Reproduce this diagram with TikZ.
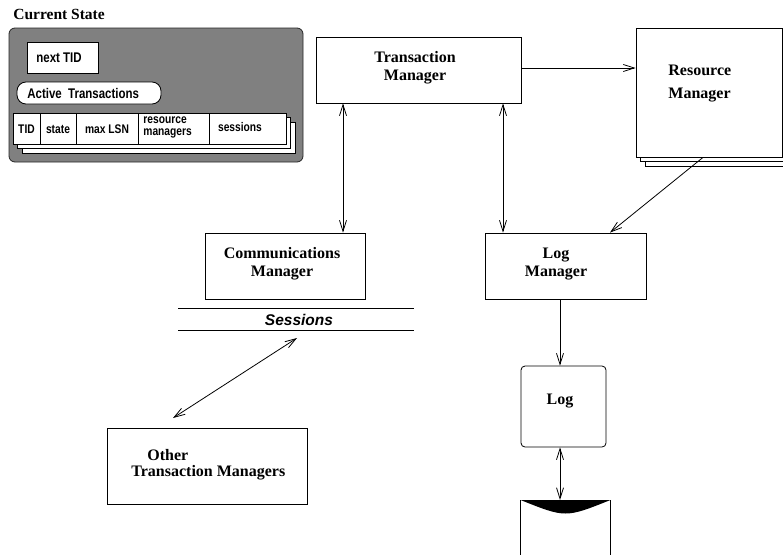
\documentclass[tikz,border=0pt]{standalone}
\usepackage{fontspec}
\setmainfont{Liberation Serif}
\newfontfamily\narrowsans[FakeStretch=0.82]{Liberation Sans}
\newfontfamily\plainsans{Liberation Sans}
\usetikzlibrary{arrows.meta}

\tikzset{
  box/.style={draw, fill=white, rectangle, inner sep=0pt},
  mainlabel/.style={font=\bfseries\fontsize{16}{18}\selectfont, inner sep=0pt},
  smalllabel/.style={font=\narrowsans\bfseries\fontsize{14}{15}\selectfont, inner sep=0pt},
  celllabel/.style={font=\narrowsans\bfseries\fontsize{12.5}{11.5}\selectfont, inner sep=0pt},
  barb/.tip={Straight Barb[length=11pt,width=7pt]},
  arr/.style={-barb},
  darr/.style={barb-barb},
  sheet/.style={draw, fill=white, rectangle, inner sep=0pt, minimum width=273pt, minimum height=31pt},
  rmsheet/.style={draw, fill=white, rectangle, inner sep=0pt, minimum width=146pt, minimum height=129pt},
}

\begin{document}
\begin{tikzpicture}[x=1pt, y=-1pt, line width=0.8pt]
\clip (0,0) rectangle (783,554);
\fill[white] (0,0) rectangle (783,554);

% ---- current state panel ----
\node[anchor=west, font=\bfseries\fontsize{15.5}{17}\selectfont, inner sep=0pt] (cstitle) at (13,14) {Current State};
\node[draw=black!85, fill=black!50, rounded corners=6pt, minimum width=294pt, minimum height=134pt, inner sep=0pt] (panel) at (156,95) {};
\node[box, minimum width=71pt, minimum height=31pt] (nexttid) at (62.5,57.5) {};
\node[smalllabel, anchor=west] (nexttidtext) at (36,58) {next TID};
\node[box, rounded corners=9pt, minimum width=144pt, minimum height=22pt] (active) at (89,93) {};
\node[smalllabel, anchor=west] (activetext) at (27,93.5) {Active\ \ Transactions};

% stacked table rows
\node[sheet] (row3) at (158.5,137.5) {};
\node[sheet] (row2) at (154,133) {};
\node[sheet] (row1) at (149.5,128.5) {};
\foreach \cx in {40,76,138,209}
  \draw (\cx,113) -- (\cx,144);
\node[celllabel] (ctid) at (26.5,129) {TID};
\node[celllabel] (cstate) at (58,129) {state};
\node[celllabel] (clsn) at (107,129) {max LSN};
\node[celllabel, anchor=west, align=left] (crm) at (143,127.5) {resource\\managers};
\node[celllabel] (csess) at (240,127) {sessions};

% ---- transaction manager ----
\node[box, minimum width=205pt, minimum height=66pt] (tm) at (418.5,70) {};
\node[mainlabel, align=center] (tmtext) at (415,68) {Transaction\\Manager};

% ---- resource manager (stack of sheets) ----
\node[rmsheet] (rm3) at (718,101.5) {};
\node[rmsheet] (rm2) at (713.5,97) {};
\node[rmsheet] (rm) at (709,92.5) {};
\node[mainlabel, anchor=west, align=left, font=\bfseries\fontsize{16}{23}\selectfont] (rmtext) at (668,83.5) {Resource\\Manager};

% ---- communications manager ----
\node[box, minimum width=160pt, minimum height=66pt] (cm) at (285,266) {};
\node[mainlabel, align=center] (cmtext) at (282,264) {Communications\\Manager};

% ---- sessions band ----
\draw (178,308) -- (414,308);
\draw (178,330) -- (414,330);
\node[font=\plainsans\bfseries\itshape\fontsize{15.5}{16}\selectfont, inner sep=0pt] (sessions) at (299,319.5) {Sessions};

% ---- other transaction managers ----
\node[box, minimum width=200pt, minimum height=76pt] (otm) at (207,466) {};
\node[mainlabel, anchor=west] (otmtext1) at (147,455) {Other};
\node[mainlabel, anchor=west] (otmtext2) at (131,473) {Transaction Managers};

% ---- log manager ----
\node[box, minimum width=161pt, minimum height=66pt] (lm) at (565.5,266) {};
\node[mainlabel, align=center] (lmtext) at (556,264.5) {Log\\Manager};

% ---- log ----
\node[box, rounded corners=4pt, minimum width=85pt, minimum height=81pt] (log) at (563.5,406.5) {};
\node[mainlabel] (logtext) at (560,401) {Log};

% ---- disk ----
\node[rectangle, inner sep=0pt, minimum width=89pt, minimum height=80pt, anchor=north] (disk) at (565.5,500) {};
\draw (disk.north west) -- (disk.south west);
\draw (disk.north east) -- (disk.south east);
\fill (disk.north west) -- (disk.north east)
  .. controls ([yshift=-18pt]disk.north) .. (disk.north west) -- cycle;

% ---- connectors ----
\draw[arr] ([yshift=2pt]tm.east) -- ([yshift=24.5pt]rm.west);
\draw[darr] ([xshift=-75.5pt]tm.south) -- ([xshift=58pt]cm.north);
\draw[darr] ([xshift=84.5pt]tm.south) -- ([xshift=-62.5pt]lm.north);
\draw[arr] ([xshift=-6pt]rm.south) -- ([xshift=44.5pt]lm.north);
\draw[arr] ([xshift=-5.5pt]lm.south) -- ([xshift=-3.5pt]log.north);
\draw[darr] ([xshift=-3.5pt]log.south) -- ([xshift=-5.5pt]disk.north);
\coordinate (sessend) at (297,338);
\coordinate (otmend) at (173,418);
\draw[darr] (sessend) -- (otmend);
\end{tikzpicture}
\end{document}
